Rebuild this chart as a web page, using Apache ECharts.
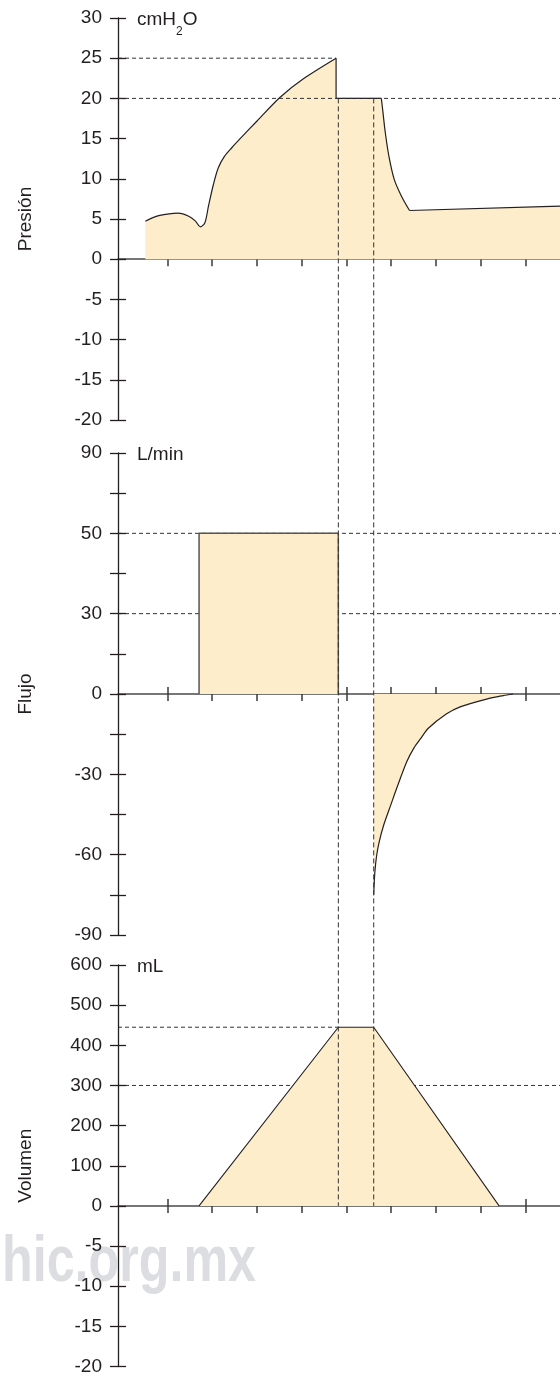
<!DOCTYPE html>
<html><head><meta charset="utf-8">
<script src="https://cdn.jsdelivr.net/npm/echarts@6/dist/echarts.min.js"></script>
<style>html,body{margin:0;padding:0;background:#fff}#c{width:560px;height:1376px}</style>
</head><body><div id="c"></div>
<script>
// ---------------- data ----------------
const timeTicks = [1, 2, 3, 4, 5, 6, 7, 8, 9];
const timeRange = [-0.1, 9.77];

const panelNames = ['Presión', 'Flujo', 'Volumen'];

// Pressure (cmH2O)
const pressureRange = [-20, 30, 5];
const pressureCurve = [
  [0.51, 4.73], [0.77, 5.35], [1.0, 5.6], [1.24, 5.72], [1.48, 5.35], [1.63, 4.73],
  [1.74, 4.03], [1.84, 4.53], [1.92, 6.59], [2.03, 9.29], [2.14, 11.37], [2.28, 12.81],
  [2.44, 13.86], [2.68, 15.3], [3.0, 17.16], [3.52, 20.15], [4.04, 22.44], [4.77, 25],
  [4.77, 20], [5.78, 20], [5.81, 18.6], [5.87, 15.7], [5.95, 12.8], [6.07, 9.9],
  [6.23, 7.84], [6.41, 6.06], [9.77, 6.6]
];
const pressurePeak = 25;
const pressurePlateau = 20;

// Flow (L/min) - tick labels are not evenly spaced on the positive side
const flowRange = [-90, 90, 15];
const flowTickLabels = ['90', '', '50', '', '30', '', '0', '', '-30', '', '-60', '', '-90'];
const flowInspiration = [[1.71, 0], [1.71, 50], [4.82, 50], [4.82, 0]];
const flowExpiration = [
  [5.61, -75], [5.635, -66.7], [5.675, -60.4], [5.73, -55.4], [5.83, -49.1], [5.99, -41.5],
  [6.15, -34], [6.35, -25.2], [6.51, -20.1], [6.67, -16.4], [6.83, -12.8], [7.23, -7.5],
  [7.54, -4.8], [8.13, -1.9], [8.5, -0.6], [8.72, 0]
];
const flowRefLevels = [50, 30];

// Volume (mL)
const volumeRange = [-400, 600, 100];
const volumeTickLabels = ['600', '500', '400', '300', '200', '100', '0', '-5', '-10', '-15', '-20'];
const volumeCurve = [[1.71, 0], [4.82, 445], [5.61, 445], [8.41, 0]];
const volumeRefLevels = [445, 300];

// phase boundaries (vertical dashed lines)
const phaseMarks = [4.82, 5.61];

// ---------------- helpers ----------------
const FONT = '"Liberation Sans", Arial, Helvetica, sans-serif';
const INK = '#231f20';
const FILL = '#fdedcb';

// map a labelled flow value to the flow axis position (axis ticks are evenly spaced)
const flowAnchors = flowTickLabels
  .map((l, i) => l === '' ? null : [Number(l), flowRange[1] - i * flowRange[2]])
  .filter(Boolean);
function flowPos(v) {
  for (let i = 0; i < flowAnchors.length - 1; i++) {
    const [la, pa] = flowAnchors[i], [lb, pb] = flowAnchors[i + 1];
    if (v <= la && v >= lb) return pa + (v - la) * (pb - pa) / (lb - la);
  }
  return v;
}
const flowMap = arr => arr.map(([x, v]) => [x, flowPos(v)]);

function yAxes(gi, range, formatter, name) {
  const base = {
    gridIndex: gi, type: 'value', min: range[0], max: range[1], interval: range[2],
    position: 'left', splitLine: { show: false }, z: 5
  };
  return [
    Object.assign({}, base, {
      axisLine: { show: true, onZero: false, lineStyle: { color: INK, width: 1.3 } },
      axisTick: { show: true, inside: false, length: 8, lineStyle: { color: INK, width: 1.3 } },
      axisLabel: { show: true, margin: 16, fontSize: 19, color: INK, fontFamily: FONT, formatter },
      name, nameLocation: 'middle', nameRotate: 90, nameGap: 83,
      nameTextStyle: { fontSize: 19, color: INK, fontFamily: FONT }
    }),
    Object.assign({}, base, {
      axisLine: { show: false, onZero: false },
      axisTick: { show: true, inside: true, length: 8, lineStyle: { color: INK, width: 1.3 } },
      axisLabel: { show: false }
    })
  ];
}
function xAxes(gi) {
  const base = {
    gridIndex: gi, type: 'value', min: timeRange[0], max: timeRange[1], position: 'bottom',
    splitLine: { show: false }, axisLabel: { show: false }
  };
  return [
    Object.assign({}, base, {
      axisLine: { show: true, onZero: true, lineStyle: { color: '#4a4a4a', width: 1.5 } },
      axisTick: { show: true, inside: false, length: 7, customValues: timeTicks, lineStyle: { color: '#3a3a3a', width: 1.5 } }
    }),
    Object.assign({}, base, {
      axisLine: { show: false, onZero: true },
      axisTick: { show: true, inside: true, length: 7, customValues: timeTicks, lineStyle: { color: '#3a3a3a', width: 1.5 } }
    })
  ];
}
function dashed(gi, y, x0, x1, z) {
  return {
    type: 'line', xAxisIndex: gi * 2, yAxisIndex: gi * 2, data: [[x0, y], [x1, y]],
    symbol: 'none', silent: true, z, lineStyle: { color: '#333', width: 1, type: [4, 3] }
  };
}
// filled area (optionally with its own outline)
function area(gi, data, stroke, width, smooth) {
  return {
    type: 'line', xAxisIndex: gi * 2, yAxisIndex: gi * 2, data, symbol: 'none', silent: true, z: 3,
    smooth: smooth || false,
    lineStyle: stroke ? { color: stroke, width } : { width: 0, opacity: 0 },
    areaStyle: { color: FILL, opacity: 1 }
  };
}
// outline only
function outline(gi, data, stroke, width, smooth) {
  return {
    type: 'line', xAxisIndex: gi * 2, yAxisIndex: gi * 2, data, symbol: 'none', silent: true, z: 4,
    smooth: smooth || false, lineStyle: { color: stroke, width }
  };
}

// pressure outline split into rise / hold / decay / baseline (smoothing only where curved)
const iPeak = pressureCurve.findIndex(p => p[1] === pressurePeak);
let iHoldEnd = iPeak;
pressureCurve.forEach((p, i) => { if (p[1] === pressurePlateau) iHoldEnd = i; });
const nP = pressureCurve.length;
const pRise = pressureCurve.slice(0, iPeak + 1);
const pHold = pressureCurve.slice(iPeak, iHoldEnd + 1);
const pDecay = pressureCurve.slice(iHoldEnd, nP - 1);
const pBase = pressureCurve.slice(nP - 2);

const peakX = pressureCurve[iPeak][0];
const volMax = Math.max(...volumeCurve.map(p => p[1]));
const volPlateauX = volumeCurve.find(p => p[1] === volMax)[0];

const option = {
  animation: false,
  backgroundColor: '#fff',
  grid: [
    { left: 118, right: 0, top: 18, height: 402 },
    { left: 118, right: 0, top: 453, height: 482 },
    { left: 118, right: 0, top: 965, height: 402 }
  ],
  xAxis: [...xAxes(0), ...xAxes(1), ...xAxes(2)],
  yAxis: [
    ...yAxes(0, pressureRange, v => String(v), panelNames[0]),
    ...yAxes(1, flowRange, v => flowTickLabels[Math.round((flowRange[1] - v) / flowRange[2])] || '', panelNames[1]),
    ...yAxes(2, volumeRange, v => volumeTickLabels[Math.round((volumeRange[1] - v) / volumeRange[2])] || '', panelNames[2])
  ],
  series: [
    // pressure
    dashed(0, pressurePeak, timeRange[0], peakX, 1),
    area(0, pressureCurve, null, 0, false),
    outline(0, pRise, INK, 1.2, 0.3),
    outline(0, pHold, INK, 1.2, false),
    outline(0, pDecay, INK, 1.2, 0.3),
    outline(0, pBase, INK, 1.2, false),
    dashed(0, pressurePlateau, timeRange[0], timeRange[1], 6),
    // flow
    dashed(1, flowPos(flowRefLevels[0]), timeRange[0], timeRange[1], 1),
    dashed(1, flowPos(flowRefLevels[1]), timeRange[0], timeRange[1], 1),
    area(1, flowMap(flowInspiration), '#555', 1.5, false),
    area(1, flowMap(flowExpiration), INK, 1.2, 0.3),
    // volume
    dashed(2, volumeRefLevels[0], timeRange[0], volPlateauX, 1),
    dashed(2, volumeRefLevels[1], timeRange[0], timeRange[1], 1),
    area(2, volumeCurve, INK, 1.1, false)
  ]
};

const chart = echarts.init(document.getElementById('c'), null, { renderer: 'canvas' });
chart.setOption(option);

// overlay: phase lines, unit labels, watermark
const graphics = [];
phaseMarks.forEach((x, i) => {
  const p1 = chart.convertToPixel({ xAxisIndex: 0, yAxisIndex: 0 }, [x, pressurePlateau]);
  const p2 = chart.convertToPixel({ xAxisIndex: 4, yAxisIndex: 4 }, [x, 0]);
  graphics.push({
    type: 'line', id: 'phase' + i, z: 10, silent: true,
    shape: { x1: p1[0], y1: p1[1], x2: p2[0], y2: p2[1] },
    style: { stroke: '#333', lineWidth: 1, lineDash: [5, 3] }
  });
});
const unitTexts = [
  { text: '{a|cmH}{s|2}{a|O}', axis: 0, top: pressureRange[1] },
  { text: '{a|L/min}', axis: 2, top: flowRange[1] },
  { text: '{a|mL}', axis: 4, top: volumeRange[1] }
];
unitTexts.forEach((u, i) => {
  const y = chart.convertToPixel({ yAxisIndex: u.axis }, u.top);
  graphics.push({
    type: 'text', id: 'unit' + i, x: 137, y: y + 6, z: 10, silent: true,
    style: {
      text: u.text, verticalAlign: 'middle', align: 'left',
      rich: {
        a: { fontSize: 19, fontFamily: FONT, fill: INK, color: INK, lineHeight: 28, verticalAlign: 'top' },
        s: { fontSize: 12, fontFamily: FONT, fill: INK, color: INK, lineHeight: 12, verticalAlign: 'bottom' }
      }
    }
  });
});
graphics.push({
  type: 'text', id: 'wm', x: 2, y: 1263, scaleX: 0.785, z: 1, silent: true,
  style: {
    text: 'hic.org.mx', font: 'bold 64px ' + FONT, fill: '#dcdde0',
    verticalAlign: 'middle', align: 'left'
  }
});
chart.setOption({ graphic: graphics });
</script>
</body></html>
